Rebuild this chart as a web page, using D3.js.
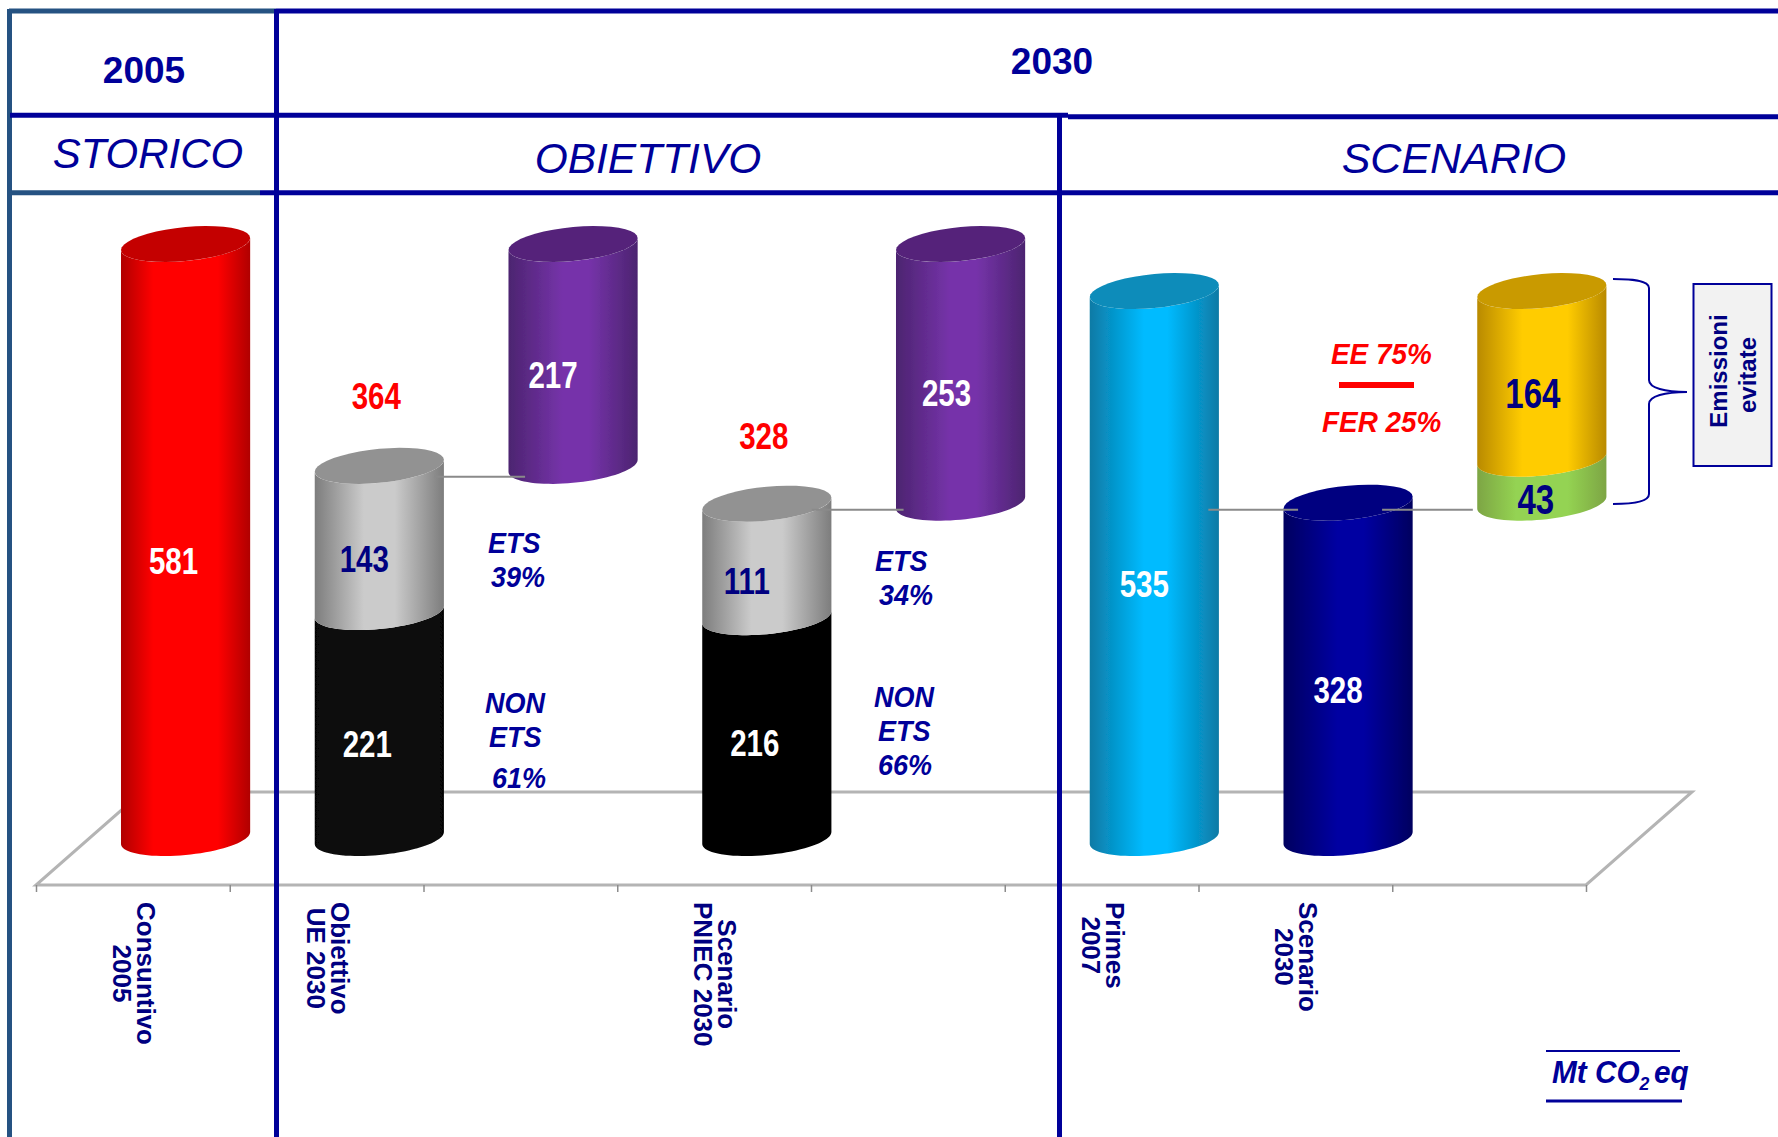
<!DOCTYPE html>
<html>
<head>
<meta charset="utf-8">
<script src="https://cdn.jsdelivr.net/npm/d3@7"></script>
<style>
html, body { margin:0; padding:0; background:#fff; }
svg { display:block; }
text { font-family:"Liberation Sans", Arial, sans-serif; }
.num { font-weight:bold; font-size:36px; text-anchor:middle; }
.side { font-weight:bold; font-style:italic; font-size:30px; fill:#000099; }
.cat { font-weight:bold; font-size:26px; fill:#000080; text-anchor:middle; }
</style>
</head>
<body>
<svg id="chart" width="1778" height="1137"></svg>
<script>
"use strict";

// one entry per slot on the floor, the blank names are the floating cylinders
var slots = ['Consuntivo 2005', 'Obiettivo UE 2030', 'ETS obiettivo', 'Scenario PNIEC 2030', 'ETS scenario', 'Primes 2007', 'Scenario 2030', 'Emissioni evitate'];
var slotBase = [0, 0, 364, 0, 328, 0, 0, 328];
var slotValues = [[581], [221, 143], [217], [216, 111], [253], [535], [328], [43, 164]];
var slotTotals = [null, 364, null, 328, null, null, null, null];
var axisLines = [['Consuntivo', '2005'], ['Obiettivo', 'UE 2030'], [], ['Scenario', 'PNIEC 2030'], [], ['Primes', '2007'], ['Scenario', '2030'], []];
var shareLabels = ['ETS', '39%', 'NON', 'ETS', '61%', 'ETS', '34%', 'NON', 'ETS', '66%'];
var mixLabels = ['EE 75%', 'FER 25%'];
var bridgeValues = [364, 328, 328, 328];

// styling, not data
var paint = {
	red:    { edge:'#b00000', mid:'#ff0000', cap:'#c40000', text:'#ffffff', from:0.25, to:0.75, big:1 },
	purple: { edge:'#4c2470', mid:'#7633aa', cap:'#54247a', text:'#ffffff', from:0.42, to:0.62, big:1 },
	grey:   { edge:'#7d7d7d', mid:'#cbcbcb', cap:'#929292', text:'#000080', from:0.38, to:0.62, big:1 },
	black1: { edge:'#060606', mid:'#101010', cap:'#060606', text:'#ffffff', from:0.3, to:0.7, big:1 },
	black2: { edge:'#000000', mid:'#000000', cap:'#000000', text:'#ffffff', from:0.3, to:0.7, big:1 },
	cyan:   { edge:'#0a7aa5', mid:'#00bbff', cap:'#0a8cba', text:'#ffffff', from:0.42, to:0.6, big:1 },
	navy:   { edge:'#00005f', mid:'#0000a2', cap:'#000080', text:'#ffffff', from:0.42, to:0.62, big:1 },
	green:  { edge:'#7da544', mid:'#94d352', cap:'#94d352', text:'#000080', from:0.3, to:0.7, big:1.12 },
	yellow: { edge:'#b98a00', mid:'#ffcc00', cap:'#c99a00', text:'#000080', from:0.35, to:0.7, big:1.12 }
};
var slotPaint = [['red'], ['black1', 'grey'], ['purple'], ['black2', 'grey'], ['purple'], ['cyan'], ['navy'], ['green', 'yellow']];
var labelNudge = [[[-12, 0]], [[-12, -1], [-15, 0]], [[-20, 0]], [[-12, -5], [-20, 1]], [[-14, 0]], [[-10, -1]], [[-10, 0]], [[-6, 0], [-9, 0]]];

var svg = d3.select('#chart');
var BLUE = '#000099', SLATE = '#255282', FLOOR = '#b4b4b4';

var x = d3.scaleBand().domain(d3.range(slots.length)).range([36, 1586]);
var y = d3.scaleLinear().domain([0, 581]).range([838, 244]);
var edges = d3.scaleLinear().domain([0, slots.length]).range([36, 1586]);

var depth = 52.7;     // shift of the cylinders back into the floor
var rx = x.bandwidth() / 3, ry = 17, tilt = 6;
function cx(i) { return x(i) + x.bandwidth() / 2 + depth; }

// squeezed text: the source used a condensed face that is not installed here
function place(sel, px, py, sx, sy)
{
	return sel.attr('transform', 'translate(' + px + ',' + py + ') scale(' + sx + ',' + sy + ')');
}

//*-*-*-*-*-*-*-*-*-*-*-*-*-*-*-*-*-*-*-*-*-
//	gradients + blur
//*-*-*-*-*-*-*-*-*-*-*-*-*-*-*-*-*-*-*-*-*-
var defs = svg.append('defs');
defs.append('filter').attr('id', 'soft').append('feGaussianBlur').attr('stdDeviation', 0.7);
Object.keys(paint).forEach(function(k)
{
	var g = defs.append('linearGradient').attr('id', 'g-' + k);
	[[0, 'edge'], [paint[k].from, 'mid'], [paint[k].to, 'mid'], [1, 'edge']].forEach(function(s)
	{
		g.append('stop').attr('offset', s[0]).attr('stop-color', paint[k][s[1]]);
	});
});

//*-*-*-*-*-*-*-*-*-*-*-*-*-*-*-*-*-*-*-*-*-
//	floor + axis ticks
//*-*-*-*-*-*-*-*-*-*-*-*-*-*-*-*-*-*-*-*-*-
var floorY = 885, backY = 792, slant = 106;
svg.append('path')
	.attr('d', d3.line()([[36, floorY], [1586, floorY], [1586 + slant, backY], [36 + slant, backY]]) + 'Z')
	.attr('fill', 'none').attr('stroke', FLOOR).attr('stroke-width', 3);

var axis = svg.append('g').attr('transform', 'translate(0,' + floorY + ')')
	.call(d3.axisBottom(edges).tickValues(d3.range(slots.length + 1)).tickFormat('').tickSize(7));
axis.select('.domain').remove();
axis.selectAll('line').attr('stroke', '#8c8c8c').attr('stroke-width', 1.5);

//*-*-*-*-*-*-*-*-*-*-*-*-*-*-*-*-*-*-*-*-*-
//	cylinders
//*-*-*-*-*-*-*-*-*-*-*-*-*-*-*-*-*-*-*-*-*-
function rim(center, level, from, to)
{
	return d3.range(0, 41).map(function(n)
	{
		var t = from + (to - from) * n / 40;
		return [center + rx * Math.cos(t), level + ry * Math.sin(t) - tilt * Math.cos(t)];
	});
}

var bars = svg.append('g').attr('filter', 'url(#soft)');
var labels = [];
slots.forEach(function(name, i)
{
	var run = slotBase[i];
	slotValues[i].forEach(function(v, j)
	{
		var yLow = y(run), yHigh = y(run + v), look = paint[slotPaint[i][j]];
		var pts = rim(cx(i), yLow, 0, Math.PI).concat(rim(cx(i), yHigh, Math.PI, 0));
		bars.append('path')
			.attr('d', d3.line()(pts) + 'Z')
			.attr('fill', 'url(#g-' + slotPaint[i][j] + ')');
		labels.push({ text:v, x:cx(i) + labelNudge[i][j][0], y:(yLow + yHigh) / 2 + 33 + labelNudge[i][j][1], fill:look.text, big:look.big });
		run += v;
	});
	var top = slotPaint[i][slotPaint[i].length - 1];
	bars.append('path')
		.attr('d', d3.line()(rim(cx(i), y(run), 0, 2 * Math.PI)) + 'Z')
		.attr('fill', paint[top].cap);
});

// thin links between a column and the floating one next to it
var bridgeEnds = [[1, 55, 2, -48, 11], [3, 45, 4, -57, 7], [5, 54, 6, -50, 7], [6, 34, 7, -69, 7]];
bridgeValues.forEach(function(v, i)
{
	var b = bridgeEnds[i];
	svg.append('line')
		.attr('x1', cx(b[0]) + b[1]).attr('x2', cx(b[2]) + b[3])
		.attr('y1', y(v) + b[4]).attr('y2', y(v) + b[4])
		.attr('stroke', '#8a8a8a').attr('stroke-width', 2);
});

labels.forEach(function(d)
{
	place(svg.append('text').attr('class', 'num').attr('fill', d.fill).text(d.text), d.x, d.y, 0.82 * d.big, 1.05 * d.big);
});

slotTotals.forEach(function(t, i)
{
	if (t === null) return;
	place(svg.append('text').attr('class', 'num').attr('fill', '#ff0000').text(t), cx(i) - 3, y(t) - (i === 3 ? 54 : 57), 0.82, 1.05);
});

//*-*-*-*-*-*-*-*-*-*-*-*-*-*-*-*-*-*-*-*-*-
//	rotated category names under the floor
//*-*-*-*-*-*-*-*-*-*-*-*-*-*-*-*-*-*-*-*-*-
axisLines.forEach(function(lines, i)
{
	if (!lines.length) return;
	var g = svg.append('g');
	var cells = lines.map(function(line, k)
	{
		return g.append('text').attr('class', 'cat')
			.attr('data-x', x(i) + x.bandwidth() / 2 + (k === 0 ? 4 : -20))
			.text(line);
	});
	var longest = d3.max(cells, function(c) { return c.node().getComputedTextLength(); });
	cells.forEach(function(c)
	{
		c.attr('transform', 'translate(' + c.attr('data-x') + ',' + (902 + longest / 2) + ') rotate(90)');
	});
});

//*-*-*-*-*-*-*-*-*-*-*-*-*-*-*-*-*-*-*-*-*-
//	notes next to the cylinders
//*-*-*-*-*-*-*-*-*-*-*-*-*-*-*-*-*-*-*-*-*-
var shareSpots = [[488, 553], [491, 587], [485, 713], [489, 747], [492, 788], [875, 571], [879, 605], [874, 707], [878, 741], [878, 775]];
shareLabels.forEach(function(t, i)
{
	place(svg.append('text').attr('class', 'side').text(t), shareSpots[i][0], shareSpots[i][1], 0.9, 1);
});

var mixSpots = [[1331, 364], [1322, 432]];
mixLabels.forEach(function(t, i)
{
	place(svg.append('text').attr('class', 'side').style('fill', '#ff0000').text(t), mixSpots[i][0], mixSpots[i][1], 0.93, 1);
});
svg.append('rect').attr('x', 1339).attr('y', 382).attr('width', 75).attr('height', 6).attr('fill', '#ff0000');

// brace
svg.append('path')
	.attr('d', 'M1613,279 C1630,279 1649,280 1649,288 L1649,380 C1649,388 1665,392 1687,392 C1665,392 1649,396 1649,404 L1649,494 C1649,502 1630,504 1613,504')
	.attr('fill', 'none').attr('stroke', BLUE).attr('stroke-width', 2);

svg.append('rect').attr('x', 1693.5).attr('y', 284).attr('width', 78).attr('height', 182)
	.attr('fill', '#f2f2f2').attr('stroke', BLUE).attr('stroke-width', 2);
[['Emissioni', 1727, 371], ['evitate', 1756, 375]].forEach(function(d)
{
	svg.append('text').attr('transform', 'translate(' + d[1] + ',' + d[2] + ') rotate(-90)')
		.attr('text-anchor', 'middle').attr('font-weight', 'bold').attr('font-size', 24)
		.attr('fill', '#000080').text(d[0]);
});

// unit
var unit = place(svg.append('text').attr('class', 'side').style('font-size', '32px'), 1552, 1083, 0.93, 1);
unit.append('tspan').text('Mt CO');
unit.append('tspan').attr('dy', 7).style('font-size', '19px').text('2');
unit.append('tspan').attr('dy', -7).attr('dx', 5).text('eq');
svg.append('line').attr('x1', 1546).attr('x2', 1680).attr('y1', 1051).attr('y2', 1051).attr('stroke', BLUE).attr('stroke-width', 2);
svg.append('line').attr('x1', 1546).attr('x2', 1682).attr('y1', 1101).attr('y2', 1101).attr('stroke', BLUE).attr('stroke-width', 3);

//*-*-*-*-*-*-*-*-*-*-*-*-*-*-*-*-*-*-*-*-*-
//	header table
//*-*-*-*-*-*-*-*-*-*-*-*-*-*-*-*-*-*-*-*-*-
function rule(x1, y1, x2, y2, color, w)
{
	svg.append('line').attr('x1', x1).attr('y1', y1).attr('x2', x2).attr('y2', y2)
		.attr('stroke', color).attr('stroke-width', w);
}
rule(9.5, 9, 9.5, 1137, SLATE, 5);
rule(9, 11, 276, 11, SLATE, 5);
rule(276, 11, 1778, 11, BLUE, 5);
rule(276.5, 9, 276.5, 1137, BLUE, 5);
rule(10, 115.3, 1068, 115.3, BLUE, 5);
rule(1068, 116.7, 1778, 116.7, BLUE, 5);
rule(260, 192.7, 1778, 192.7, BLUE, 5);
rule(12, 192.7, 260, 192.7, SLATE, 5);
rule(1059.5, 116, 1059.5, 1137, BLUE, 5);

var heads = [
	['2005', 144, 83, 37, 'bold', 'normal'],
	['2030', 1052, 74, 37, 'bold', 'normal'],
	['STORICO', 148, 168, 42, 'normal', 'italic'],
	['OBIETTIVO', 648, 173, 42.5, 'normal', 'italic'],
	['SCENARIO', 1454, 173, 43, 'normal', 'italic']
];
heads.forEach(function(h)
{
	svg.append('text').attr('x', h[1]).attr('y', h[2]).attr('text-anchor', 'middle')
		.attr('font-size', h[3]).attr('font-weight', h[4]).attr('font-style', h[5])
		.attr('fill', BLUE).text(h[0]);
});
</script>
</body>
</html>
